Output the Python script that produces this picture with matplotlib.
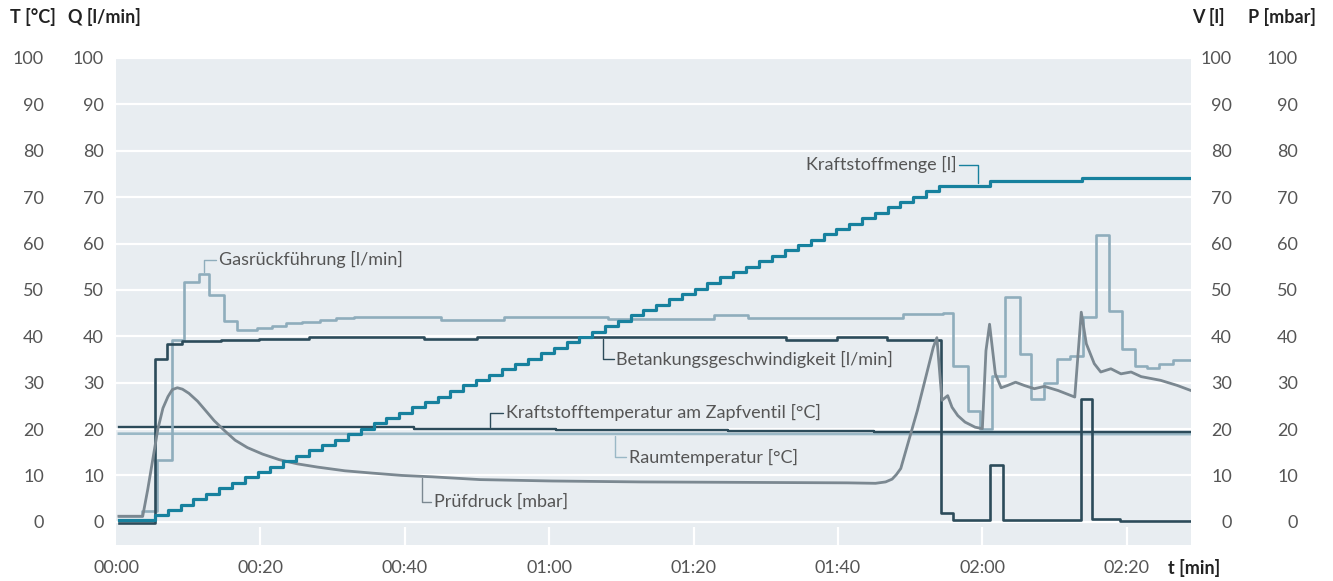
import numpy as np
import matplotlib
matplotlib.use("Agg")
import matplotlib.pyplot as plt
from matplotlib.ticker import FuncFormatter

plt.rcParams['font.family'] = ['Lato', 'DejaVu Sans']

# --- Messdaten (Zeit in Minuten) ---
# Kraftstoffmenge [l], Treppenfunktion
menge_t = [0.4, 5.4, 7.2, 9.0, 10.7, 12.5, 14.3, 16.1, 17.9, 19.6, 21.4, 23.2, 25.0,
           26.8, 28.5, 30.3, 32.1, 33.9, 35.7, 37.4, 39.2, 41.0, 42.8, 44.6, 46.3,
           48.1, 49.9, 51.7, 53.5, 55.2, 57.0, 58.8, 60.6, 62.4, 64.1, 65.9, 67.7,
           69.5, 71.3, 73.0, 74.8, 76.6, 78.4, 80.2, 81.9, 83.7, 85.5, 87.3, 89.1,
           90.8, 92.6, 94.4, 96.2, 98.0, 99.7, 101.5, 103.3, 105.1, 106.9, 108.6,
           110.4, 112.2, 114.0, 121.0, 133.8, 148.9]
menge_v = [0.3, 1.4, 2.6, 3.7, 4.9, 6.1, 7.2, 8.4, 9.6, 10.7, 11.9, 13.1, 14.2,
           15.4, 16.5, 17.7, 18.9, 20.0, 21.2, 22.4, 23.5, 24.7, 25.9, 27.0, 28.2,
           29.4, 30.5, 31.7, 32.9, 34.0, 35.2, 36.4, 37.5, 38.7, 39.8, 41.0, 42.2,
           43.3, 44.5, 45.7, 46.8, 48.0, 49.2, 50.3, 51.5, 52.7, 53.8, 55.0, 56.2,
           57.3, 58.5, 59.7, 60.8, 62.0, 63.1, 64.3, 65.5, 66.6, 67.8, 69.0, 70.1,
           71.3, 72.5, 73.5, 74.2, 74.2]

# Gasrückführung [l/min], Treppenfunktion
gas_t = [0.4, 3.6, 5.7, 7.7, 9.4, 11.5, 12.9, 14.9, 16.7, 19.5, 21.6, 23.6, 25.7,
         28.2, 30.5, 33.0, 34.4, 45.0, 53.7, 68.1, 82.8, 87.5, 109.0, 114.5, 116.0,
         118.0, 119.7, 121.3, 123.2, 125.2, 126.7, 128.5, 130.4, 132.2, 134.0,
         135.8, 137.6, 139.3, 141.2, 142.8, 144.5, 146.4, 148.9]
gas_v = [1.3, 2.3, 13.3, 39.3, 51.6, 53.4, 48.8, 43.4, 41.4, 41.8, 42.3, 42.8, 43.1,
         43.5, 43.9, 44.2, 44.1, 43.5, 44.2, 43.8, 44.5, 43.9, 44.7, 45.0, 33.6,
         23.8, 20.1, 31.4, 48.4, 36.1, 26.5, 30.0, 35.1, 35.8, 44.2, 61.9, 45.5,
         37.3, 33.5, 33.2, 34.1, 34.8, 34.8]

# Betankungsgeschwindigkeit [l/min], Treppenfunktion
betank_t = [0.4, 5.4, 7.1, 9.2, 14.5, 19.8, 26.7, 42.6, 50.0, 92.8, 99.9, 106.8,
            114.3, 115.9, 121.0, 122.9, 133.6, 135.2, 139.0, 148.9]
betank_v = [-0.2, 35.0, 38.4, 38.9, 39.2, 39.4, 39.8, 39.4, 39.9, 39.2, 39.8, 39.3,
            1.8, 0.4, 12.2, 0.4, 26.4, 0.5, 0.1, 0.1]

# Prüfdruck [mbar]
druck_t = [0.4, 3.7, 4.4, 5.1, 5.8, 6.5, 7.2, 7.8, 8.5, 9.2, 10.1, 11.3, 12.4,
           13.6, 15.0, 16.5, 18.2, 20.3, 22.6, 25.1, 27.9, 31.7, 35.5, 39.6, 43.8,
           50.4, 60.4, 72.7, 87.2, 101.3, 105.2, 106.6, 107.5, 108.1, 108.7, 111.0,
           113.2, 113.7, 114.4, 115.2, 115.8, 116.6, 117.6, 119.0, 120.0, 120.5,
           121.0, 121.8, 122.6, 123.5, 124.6, 125.8, 127.2, 128.6, 130.5, 132.8,
           133.7, 134.4, 135.5, 136.4, 137.8, 139.2, 140.6, 142.0, 144.7, 147.0,
           148.9]
druck_v = [1.2, 1.2, 7.0, 13.5, 20.0, 24.5, 27.0, 28.5, 28.9, 28.6, 27.7, 26.0, 24.0,
           21.8, 19.7, 17.6, 16.0, 14.6, 13.4, 12.5, 11.8, 11.0, 10.5, 10.0, 9.7,
           9.1, 8.8, 8.6, 8.5, 8.4, 8.3, 8.6, 9.2, 10.2, 11.5, 24.0,
           37.6, 39.7, 26.2, 27.2, 24.7, 22.9, 21.5, 20.4, 20.1, 36.9,
           42.6, 31.9, 28.9, 29.4, 30.1, 29.4, 28.7, 29.2, 28.3, 26.9,
           45.2, 38.4, 34.1, 32.3, 33.0, 31.9, 32.3, 31.3, 30.5, 29.4,
           28.3]

# Kraftstofftemperatur am Zapfventil [°C]
ktemp_t = [0.4, 41.3, 61.0, 84.7, 105.0, 148.9]
ktemp_v = [20.4, 20.1, 19.9, 19.6, 19.4, 19.4]

# Raumtemperatur [°C]
rtemp_t = [0.4, 148.9]
rtemp_v = [19.0, 18.9]

y_ticks = list(range(0, 101, 10))
x_ticks = list(range(0, 141, 20))

c_menge = '#17819e'
c_gas = '#8fadbc'
c_dark = '#2c4b5a'
c_druck = '#7b8891'
c_raum = '#9ab8c6'
c_text = '#555555'
fs = 13

fig = plt.figure(figsize=(13.33, 5.81), dpi=100)
ax = fig.add_axes([116 / 1333, 1 - 545 / 581, (1191 - 116) / 1333, (545 - 58) / 581])
ax.set_facecolor('#e8edf1')
for s in ax.spines.values():
    s.set_visible(False)

ax.set_xlim(0.4, 148.9)
ax.set_ylim(-5, 100)

# Gitterlinien und kurze Markierungen unten
ax.set_yticks(y_ticks)
ax.grid(axis='y', color='white', lw=1.6)
ax.set_axisbelow(True)
ax.vlines(x_ticks[1:], -5, -1.1, color='white', lw=1.6, zorder=1)

# Kurven
ax.plot(rtemp_t, rtemp_v, color=c_raum, lw=1.9, zorder=2)
ax.plot(ktemp_t, ktemp_v, color=c_dark, lw=1.7, drawstyle='steps-post', zorder=3)
ax.plot(gas_t, gas_v, color=c_gas, lw=1.9, drawstyle='steps-post', zorder=4)
ax.plot(betank_t, betank_v, color=c_dark, lw=1.9, drawstyle='steps-post', zorder=5)
ax.plot(druck_t, druck_v, color=c_druck, lw=2.0, zorder=6, solid_joinstyle='round')
ax.plot(menge_t, menge_v, color=c_menge, lw=2.3, drawstyle='steps-post', zorder=7)

# Achsenbeschriftungen
ax.tick_params(axis='y', length=0, pad=8.6, labelsize=fs, labelcolor=c_text)
ax.set_xticks(x_ticks)
ax.xaxis.set_major_formatter(FuncFormatter(lambda m, _: f"{int(m // 60):02d}:{int(m % 60):02d}"))
ax.tick_params(axis='x', length=0, pad=11, labelsize=fs, labelcolor=c_text)

sec_t = ax.secondary_yaxis('left')
sec_t.set_yticks(y_ticks)
sec_t.tick_params(length=0, pad=51.8, labelsize=fs, labelcolor=c_text)
sec_t.spines['left'].set_visible(False)

for pad in (29.5, 77):
    sec = ax.secondary_yaxis('right')
    sec.set_yticks(y_ticks)
    sec.tick_params(length=0, pad=pad, labelsize=fs, labelcolor=c_text)
    sec.spines['right'].set_visible(False)
    plt.setp(sec.get_yticklabels(), ha='right')

head = dict(fontsize=13, fontweight='bold', color='#222222', va='center')
fig.text(10 / 1333, 1 - 17 / 581, 'T [°C]', **head)
fig.text(68 / 1333, 1 - 17 / 581, 'Q [l/min]', **head)
fig.text(1192 / 1333, 1 - 17 / 581, 'V [l]', **head)
fig.text(1248 / 1333, 1 - 17 / 581, 'P [mbar]', **head)
fig.text(1168 / 1333, 1 - 568 / 581, 't [min]', **head)


def label(text, t, series_t, series_v, tx, ty, ha, color, steps=True):
    if steps:
        idx = np.searchsorted(series_t, t, side='right') - 1
        yv = series_v[idx]
    else:
        yv = np.interp(t, series_t, series_v)
    ax.annotate(text, xy=(t, yv), xytext=(tx, ty), ha=ha, va='center',
                fontsize=fs, color=c_text, zorder=8,
                arrowprops=dict(arrowstyle='-', color=color, lw=1.0,
                                shrinkA=0, shrinkB=1.5,
                                connectionstyle='angle,angleA=0,angleB=90,rad=0'))


label('Kraftstoffmenge [l]', 119.4, menge_t, menge_v, 116.4, 77.0, 'right', c_menge)
label('Gasrückführung [l/min]', 12.2, gas_t, gas_v, 14.3, 56.5, 'left', c_gas)
label('Betankungsgeschwindigkeit [l/min]', 67.5, betank_t, betank_v, 69.3, 35.0, 'left', c_dark)
label('Kraftstofftemperatur am Zapfventil [°C]', 51.8, ktemp_t, ktemp_v, 54.0, 23.5, 'left', c_dark)
label('Raumtemperatur [°C]', 69.1, rtemp_t, rtemp_v, 71.0, 13.9, 'left', c_raum, steps=False)
label('Prüfdruck [mbar]', 42.4, druck_t, druck_v, 44.0, 4.3, 'left', c_druck, steps=False)

fig.savefig('out.png', dpi=100)
